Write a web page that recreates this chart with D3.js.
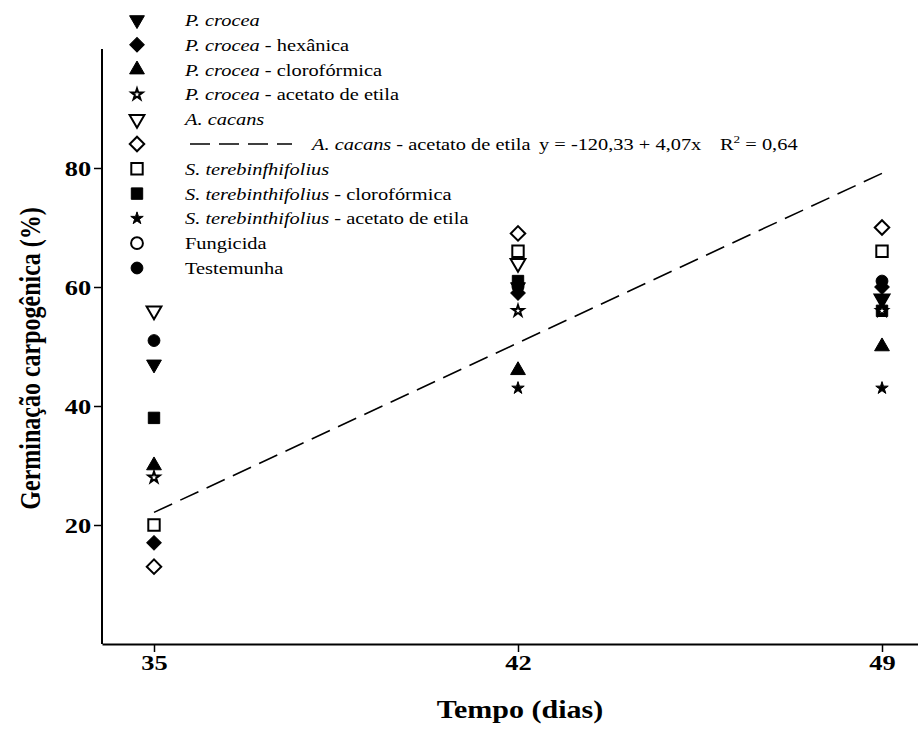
<!DOCTYPE html>
<html>
<head>
<meta charset="utf-8">
<script src="https://cdn.jsdelivr.net/npm/d3@7"></script>
<style>
  html, body { margin: 0; padding: 0; background: #fff; }
  svg { display: block; }
</style>
</head>
<body>
<svg id="chart" width="918" height="743"></svg>
<script>
// Sampling days
const days = [35, 42, 49];

// Treatments: italic part, plain suffix, marker, values at each day
const seriesItalic = [
  "P. crocea", "P. crocea", "P. crocea", "P. crocea", "A. cacans", "A. cacans",
  "S. terebinfhifolius", "S. terebinthifolius", "S. terebinthifolius", "", ""
];
const seriesSuffix = [
  "", " - hexânica", " - clorofórmica", " - acetato de etila", "", " - acetato de etila",
  "", " - clorofórmica", " - acetato de etila", "Fungicida", "Testemunha"
];
const seriesMarker = [
  "triDownFill", "diamondFill", "triUpFill", "starOpen", "triDownOpen", "diamondOpen",
  "squareOpen", "squareFill", "starFill", "circleOpen", "circleFill"
];
const seriesValues = [
  [47, 60, 58],      // P. crocea
  [17, 59, 60],      // P. crocea - hexânica
  [30, 46, 50],      // P. crocea - clorofórmica
  [28, 56, 56],      // P. crocea - acetato de etila
  [56, 64, 58],      // A. cacans
  [13, 69, 70],      // A. cacans - acetato de etila
  [20, 66, 66],      // S. terebinfhifolius
  [38, 61, 56],      // S. terebinthifolius - clorofórmica
  [null, 43, 43],    // S. terebinthifolius - acetato de etila
  [null, null, null],// Fungicida
  [51, 60, 61]       // Testemunha
];

// Fitted regression for A. cacans - acetato de etila
const fitIntercept = -120.33;
const fitSlope = 4.07;
const fitLabel = "y = -120,33 + 4,07x";
const fitR2 = "0,64";

const yTicks = [20, 40, 60, 80];
const xTicks = [35, 42, 49];
const xTitle = "Tempo (dias)";
const yTitle = "Germinação carpogênica (%)";

const FONT = "'Liberation Serif', 'Times New Roman', Times, serif";
const SX = 1.2; // horizontal widening of all lettering

const svg = d3.select("#chart").attr("font-family", FONT);

const x = d3.scaleLinear().domain([34, 50]).range([102, 934]);
const y = d3.scaleLinear().domain([0, 100]).range([644, 49]);

// Text placed at (tx, ty), widened horizontally
function wideText(parent, tx, ty, size, extra = "") {
  return parent.append("g")
    .attr("transform", `translate(${tx},${ty}) scale(${SX},1) ${extra}`)
    .append("text")
    .attr("font-size", size);
}

// Marker shapes
function markerPath(kind) {
  if (kind.startsWith("triDown") || kind.startsWith("triUp")) return d3.symbol(d3.symbolTriangle, 95)();
  if (kind.startsWith("diamond")) return d3.symbol(d3.symbolSquare, 105)();
  if (kind.startsWith("square")) return d3.symbol(d3.symbolSquare, 130)();
  if (kind.startsWith("star")) return d3.symbol(d3.symbolStar, kind === "starFill" ? 48 : 38)();
  return d3.symbol(d3.symbolCircle, 110)();
}
function markerRotate(kind) {
  if (kind.startsWith("triDown")) return 180;
  if (kind.startsWith("diamond")) return 45;
  return 0;
}
function drawMarker(g, kind, cx, cy) {
  const open = kind.endsWith("Open");
  g.append("path")
    .attr("d", markerPath(kind))
    .attr("transform", `translate(${cx},${cy}) rotate(${markerRotate(kind)})`)
    .attr("fill", open ? "#fff" : "#000")
    .attr("stroke", "#000")
    .attr("stroke-width", open ? 2 : 1)
    .attr("stroke-linejoin", "miter");
}

// Axes
const xAxis = d3.axisBottom(x).tickValues(xTicks).tickSize(8).tickSizeOuter(0).tickPadding(2);
const yAxis = d3.axisLeft(y).tickValues(yTicks).tickSize(8).tickSizeOuter(0).tickPadding(1);

const gx = svg.append("g").attr("transform", `translate(0,${y(0)})`).call(xAxis);
const gy = svg.append("g").attr("transform", `translate(${x(34)},0)`).call(yAxis);
[gx, gy].forEach(g => {
  g.attr("font-family", FONT).attr("font-size", 22);
  g.select(".domain").attr("stroke", "#000").attr("stroke-width", 2);
  g.selectAll(".tick line").attr("stroke", "#000").attr("stroke-width", 1.5);
  g.selectAll(".tick text")
    .attr("fill", "#000")
    .attr("font-weight", "bold")
    .attr("transform", `scale(${SX},1)`);
});
gy.select(".domain").attr("d", `M0,${y(0)}V${y(100)}`);

// Axis titles
wideText(svg, 520, 718, 25)
  .attr("text-anchor", "middle").attr("font-weight", "bold")
  .text(xTitle);
wideText(svg, 40, y(48), 24, "rotate(-90)")
  .attr("text-anchor", "middle").attr("font-weight", "bold")
  .text(yTitle);

// Regression line
const fitLine = d3.line().x(d => x(d)).y(d => y(fitIntercept + fitSlope * d));
svg.append("path")
  .attr("d", fitLine([35, 49]))
  .attr("fill", "none").attr("stroke", "#000")
  .attr("stroke-width", 1.6)
  .attr("stroke-dasharray", "20,9");

// Points: last treatment drawn first so earlier ones sit on top
const pts = svg.append("g");
d3.range(seriesValues.length - 1, -1, -1).forEach(i => {
  seriesValues[i].forEach((v, j) => {
    if (v == null) return;
    drawMarker(pts, seriesMarker[i], x(days[j]), y(v));
  });
});

// Legend
const legend = svg.append("g");
const legX = 137, legTextX = 185, legY0 = 20, legDy = 24.8, legSize = 17;
seriesMarker.forEach((m, i) => {
  const cy = legY0 + i * legDy;
  drawMarker(legend, m, legX, cy);
  let tx = legTextX;
  if (i === 5) {
    legend.append("line")
      .attr("x1", 190).attr("x2", 292).attr("y1", cy).attr("y2", cy)
      .attr("stroke", "#000").attr("stroke-width", 1.6)
      .attr("stroke-dasharray", "20,9");
    tx = 312;
  }
  const t = wideText(legend, tx, cy + 6, legSize);
  if (seriesItalic[i]) t.append("tspan").attr("font-style", "italic").text(seriesItalic[i]);
  if (seriesSuffix[i]) t.append("tspan").text(seriesSuffix[i]);
  if (i === 5) {
    wideText(legend, 539, cy + 6, legSize).text(fitLabel);
    const r = wideText(legend, 720, cy + 6, legSize);
    r.append("tspan").text("R");
    r.append("tspan").attr("dy", -7).attr("font-size", 11).text("2");
    r.append("tspan").attr("dy", 7).text(" = " + fitR2);
  }
});
</script>
</body>
</html>
